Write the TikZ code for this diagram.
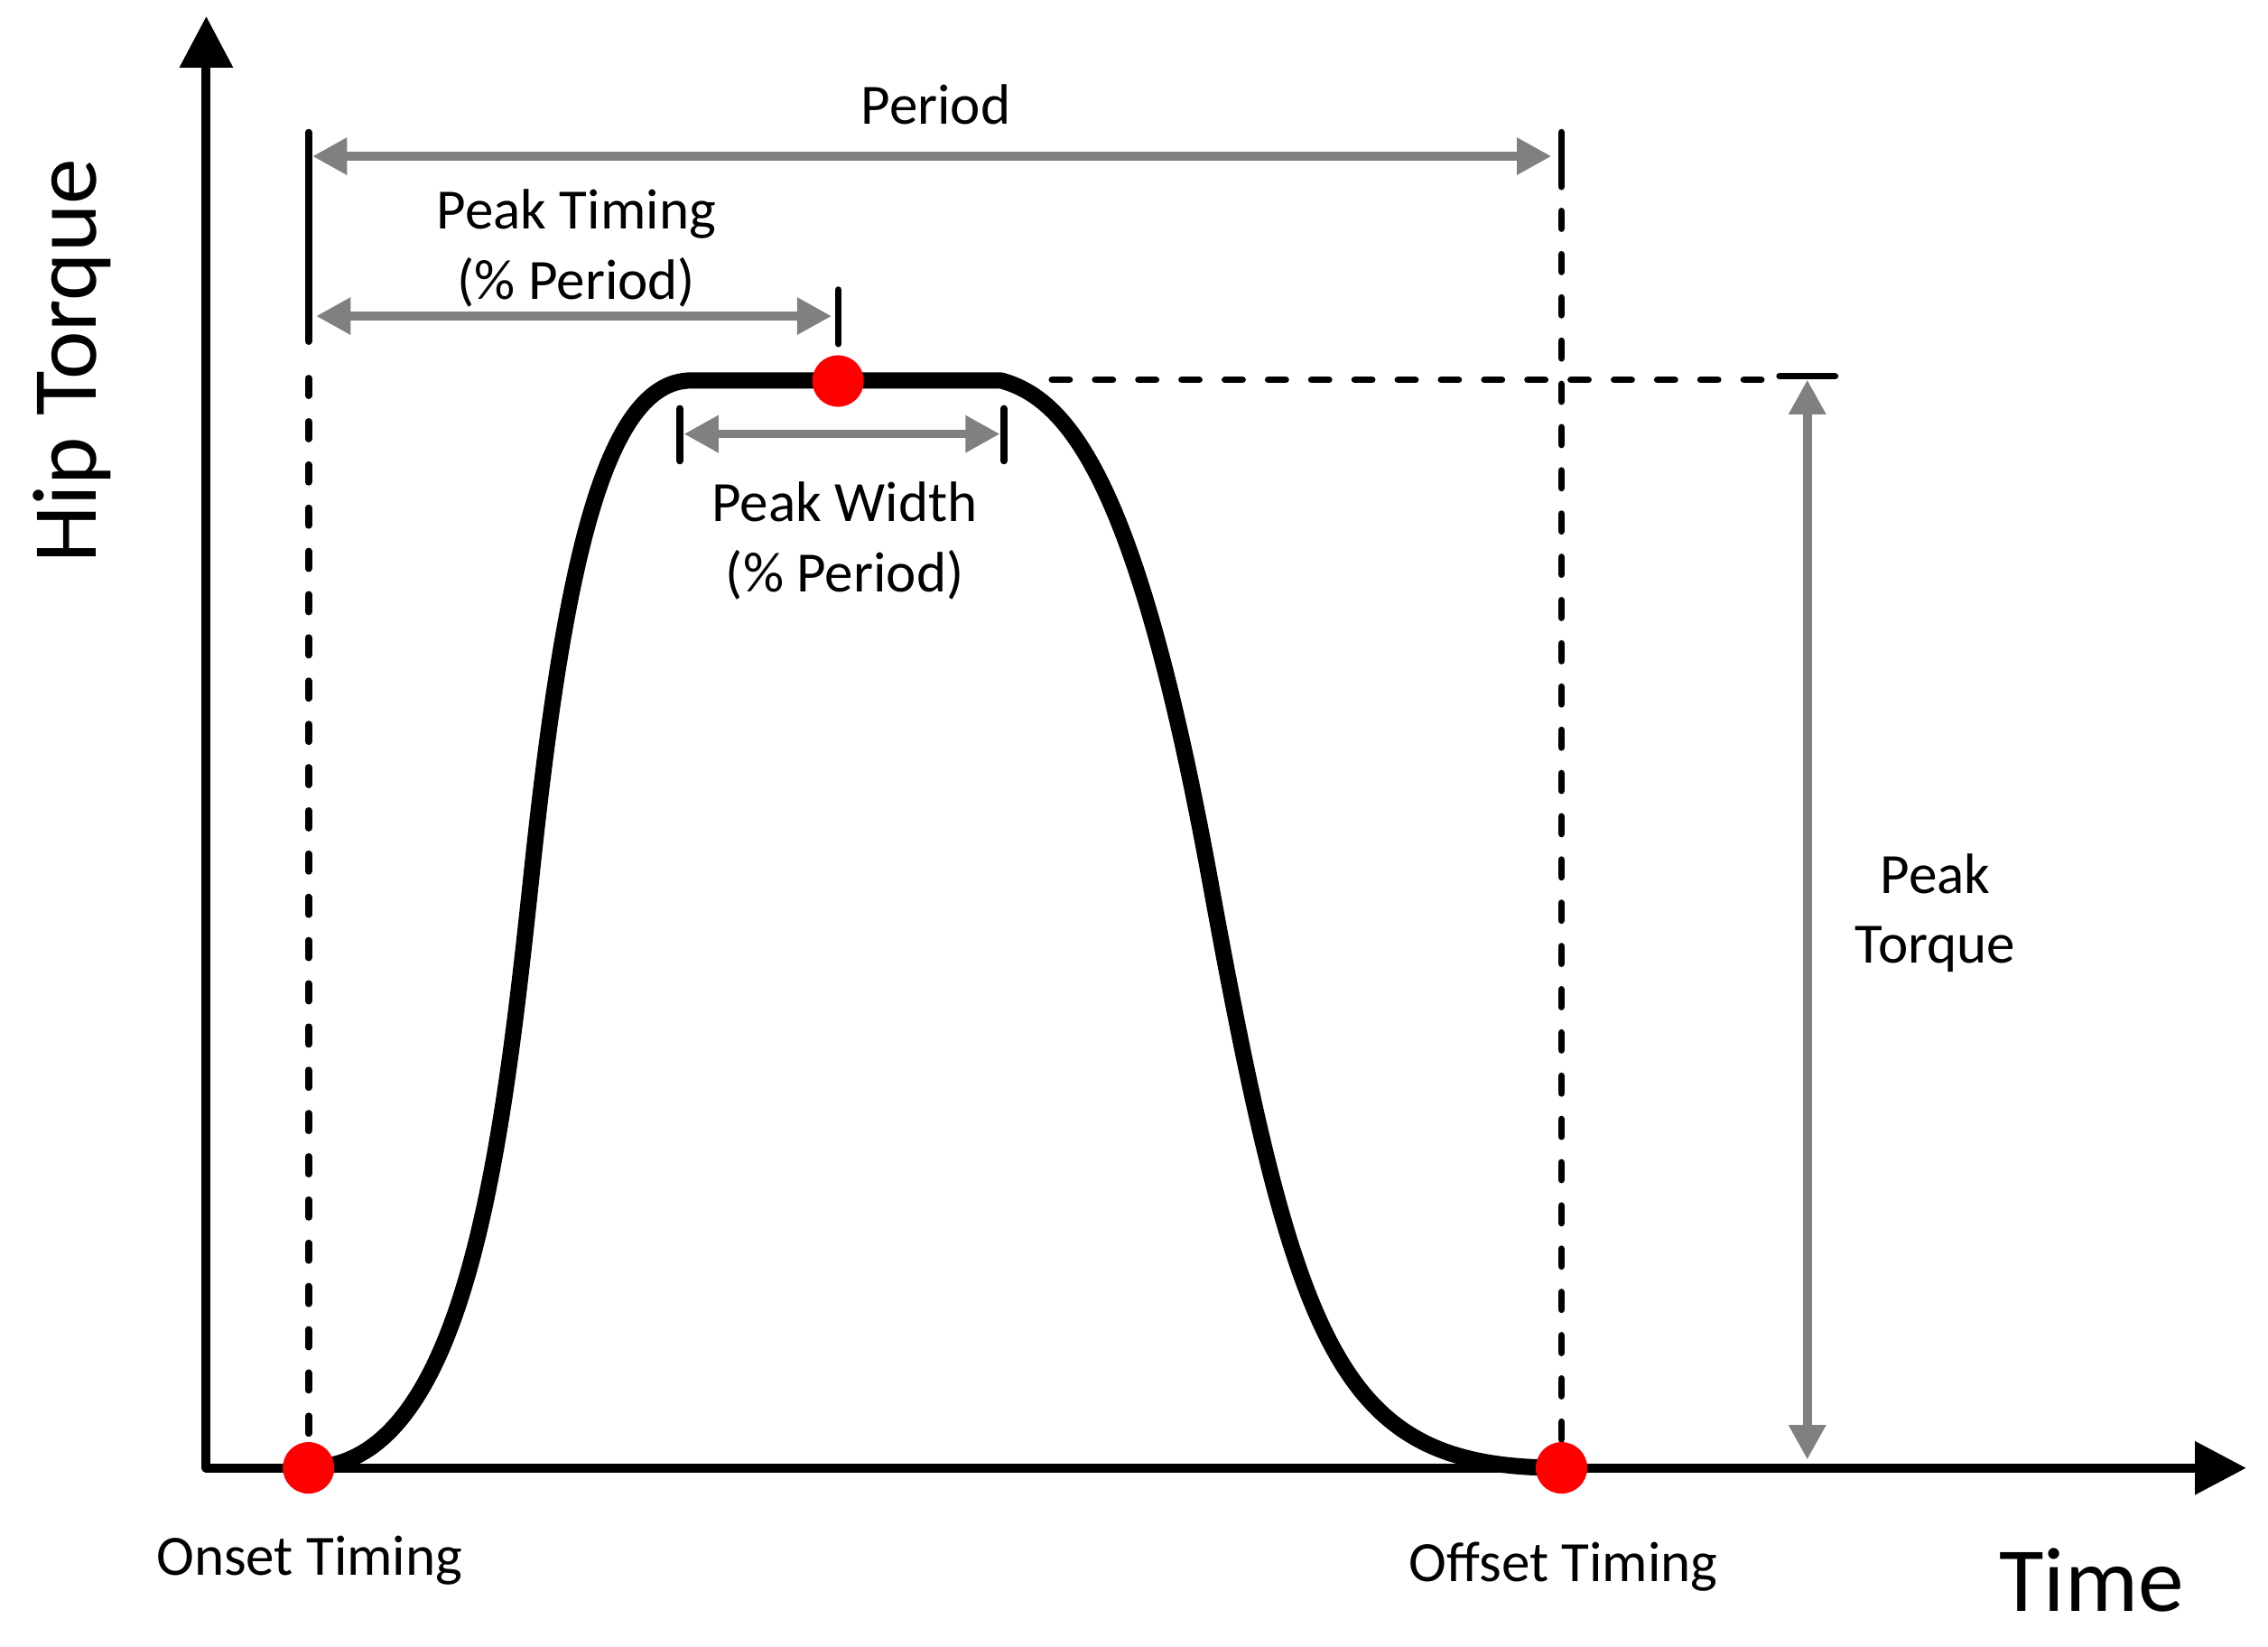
\documentclass[tikz,border=0pt]{standalone}
\usepackage{fontspec}
\setmainfont{Carlito}
\usetikzlibrary{arrows.meta}
\begin{document}
\begin{tikzpicture}[x=0.01cm,y=-0.01cm,
  axisline/.style={line width=1.78pt, line join=round, >={Triangle[length=10.1pt,width=10.1pt]}, <->},
  curveline/.style={line width=3.2pt, line join=round},
  grayarrow/.style={draw=gray, line width=1.69pt, >={Triangle[length=6.8pt,width=6.9pt]}, <->},
  tickline/.style={line width=1.37pt, line cap=round},
  dashline/.style={line width=1.37pt, line cap=round, dash pattern=on 3.4pt off 5.1pt},
  dot/.style={circle, fill=red, draw=none, inner sep=0pt, minimum size=0.356cm},
  lbl/.style={font=\fontsize{11.2}{13.8}\selectfont, inner sep=0pt, anchor=base, align=center},
  big/.style={font=\fontsize{18}{21}\selectfont, inner sep=0pt, anchor=base}
]
\useasboundingbox (0,0) rectangle (1568,1138);

% key points
\coordinate (O) at (142.6,1014.8);
\coordinate (ytip) at (142.6,11.2);
\coordinate (xtip) at (1553,1014.8);

% axes
\draw[axisline] (ytip) -- (O) -- (xtip);

% torque curve
\coordinate (c0) at (213,1014.5);
\coordinate (c1) at (368,600);
\coordinate (c2) at (478,263);
\coordinate (c3) at (692,263);
\coordinate (c4) at (837,611);
\coordinate (c5) at (1079,1014.7);
\draw[curveline] (c0)
  .. controls (323,1014.5) and (348,788) .. (c1)
  .. controls (390,393) and (418,263) .. (c2)
  -- (c3)
  .. controls (740,276) and (787,336) .. (c4)
  .. controls (897,941) and (929,1014.7) .. (c5);

% onset / offset verticals
\coordinate (onTop) at (213.3,91.5);
\coordinate (onTickEnd) at (213.3,236);
\coordinate (onDash) at (213.3,261.5);
\coordinate (onBase) at (213.3,1014.8);
\draw[tickline] (onTop) -- (onTickEnd);
\draw[dashline] (onDash) -- (onBase);

\coordinate (offTop) at (1079.5,91.5);
\coordinate (offTickEnd) at (1079.5,129);
\coordinate (offDash) at (1079.5,146);
\coordinate (offBase) at (1079.5,1014.8);
\draw[tickline] (offTop) -- (offTickEnd);
\draw[dashline] (offDash) -- (offBase);

% peak level line
\coordinate (hA) at (727.4,262.5);
\coordinate (hB) at (1218,262.5);
\coordinate (hC) at (1230.4,260);
\coordinate (hD) at (1268.6,260);
\draw[dashline] (hA) -- (hB);
\draw[tickline] (hC) -- (hD);

% ticks
\coordinate (ptTickA) at (579.6,200.4);
\coordinate (ptTickB) at (579.6,237.6);
\coordinate (pwLA) at (470,282.4);
\coordinate (pwLB) at (470,318.6);
\coordinate (pwRA) at (694,282.4);
\coordinate (pwRB) at (694,318.6);
\draw[tickline] (ptTickA) -- (ptTickB);
\draw[tickline] (pwLA) -- (pwLB);
\draw[tickline] (pwRA) -- (pwRB);

% gray dimension arrows
\coordinate (perL) at (216,108);
\coordinate (perR) at (1072.6,108);
\coordinate (ptL) at (218.5,218.5);
\coordinate (ptR) at (575,218.5);
\coordinate (pwL) at (472.8,300);
\coordinate (pwR) at (691.4,300);
\coordinate (tqT) at (1249.5,262.5);
\coordinate (tqB) at (1249.5,1009);
\draw[grayarrow] (perL) -- (perR);
\draw[grayarrow] (ptL) -- (ptR);
\draw[grayarrow] (pwL) -- (pwR);
\draw[grayarrow] (tqT) -- (tqB);

% dots
\node[dot] (onset) at (213.3,1014.7) {};
\node[dot] (offset) at (1079.6,1014.7) {};
\node[dot] (peak) at (579.4,263.4) {};

% labels (anchor=base = baseline of the last line)
\node[lbl] (period) at (647,85.7) {Period};
\node[lbl] (ptiming) at (398.5,207) {Peak Timing\\(\% Period)};
\node[lbl] (pwidth) at (584,409) {Peak Width\\(\% Period)};
\node[lbl] (ptorque) at (1338,666) {Peak\\Torque};
\node[lbl] (onsetlbl) at (214,1089) {Onset Timing};
\node[lbl] (offsetlbl) at (1081,1093) {Offset Timing};
\node[big] (timelbl) at (1446,1113.7) {Time};
\node[big, rotate=90] (hiplbl) at (66.6,249.5) {Hip Torque};
\end{tikzpicture}
\end{document}
